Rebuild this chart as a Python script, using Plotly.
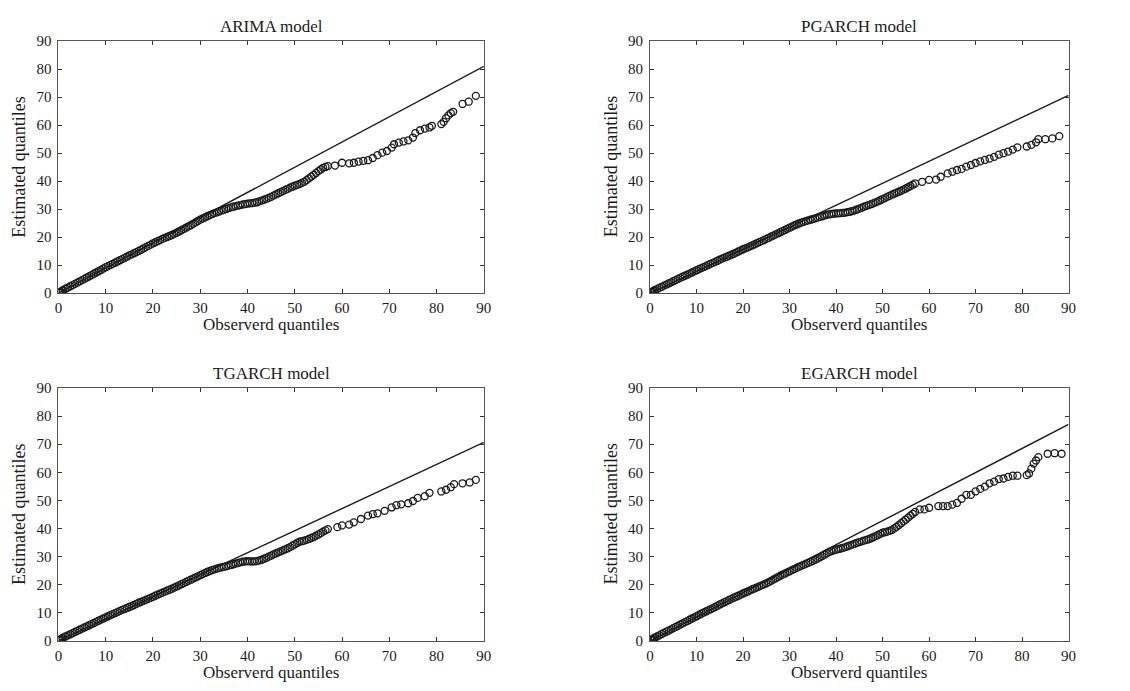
import sys
import plotly.graph_objects as go

# ---------------- data ----------------
titles = ["ARIMA model", "PGARCH model", "TGARCH model", "EGARCH model"]
x_label = "Observerd quantiles"
y_label = "Estimated quantiles"
tick_vals = [0, 10, 20, 30, 40, 50, 60, 70, 80, 90]

# slope of the reference line (through the origin) per model
ref_slopes = [0.90, 0.785, 0.785, 0.856]

# observed quantiles in the dense part of every panel
dense_x = [0.1, 0.3, 0.5, 0.8, 1, 1.5, 2, 2.5,
           3, 3.5, 4, 4.5, 5, 5.5, 6, 6.5, 7, 7.5,
           8, 8.5, 9, 9.5, 10, 10.5, 11, 11.5, 12, 12.5,
           13, 13.5, 14, 14.5, 15, 15.5, 16, 16.5, 17, 17.5,
           18, 18.5, 19, 19.5, 20, 20.5, 21, 21.5, 22, 22.5,
           23, 23.5, 24, 24.5, 25, 25.5, 26, 26.5, 27, 27.5,
           28, 28.5, 29, 29.5, 30, 30.5, 31, 31.5, 32, 32.5,
           33, 33.5, 34, 34.5, 35, 35.5, 36, 36.5, 37, 37.5,
           38, 38.5, 39, 39.5, 40, 40.5, 41, 41.5, 42, 42.5,
           43, 43.5, 44, 44.5, 45, 45.5, 46, 46.5, 47, 47.5,
           48, 48.5, 49, 49.5, 50, 50.5, 51, 51.5, 52, 52.5,
           53, 53.5, 54, 54.5, 55, 55.5, 56, 56.5, 57]

arima_dense_y = [0.2, 0.4, 0.6, 0.9, 1.1, 1.6, 2.0, 2.5,
                 2.9, 3.35, 3.8, 4.25, 4.7, 5.15, 5.6, 6.05, 6.5, 6.95,
                 7.4, 7.85, 8.3, 8.8, 9.3, 9.7, 10.1, 10.5, 10.9, 11.35,
                 11.8, 12.2, 12.6, 13.05, 13.5, 13.9, 14.3, 14.7, 15.1, 15.55,
                 16.0, 16.45, 16.9, 17.35, 17.8, 18.2, 18.6, 19.0, 19.4, 19.75,
                 20.1, 20.45, 20.8, 21.2, 21.6, 22.05, 22.5, 22.95, 23.4, 23.85,
                 24.3, 24.8, 25.3, 25.8, 26.3, 26.7, 27.1, 27.5, 27.9, 28.25,
                 28.6, 28.9, 29.2, 29.5, 29.8, 30.1, 30.4, 30.65, 30.9, 31.1,
                 31.3, 31.5, 31.7, 31.85, 32.0, 32.1, 32.2, 32.35, 32.5, 32.8,
                 33.1, 33.4, 33.7, 34.05, 34.4, 34.85, 35.3, 35.7, 36.1, 36.5,
                 36.9, 37.3, 37.7, 38.05, 38.4, 38.7, 39.0, 39.4, 39.8, 40.4,
                 41.0, 41.65, 42.3, 42.95, 43.6, 44.2, 44.8, 45.1, 45.4]
arima_tail_x = [58.5, 60, 61.5, 62.5, 63.5, 64.5, 65.5, 66.5, 67.5, 68.5, 69.5, 70.5, 71, 72, 73, 74,
                75, 75.5, 76.5, 77.5, 78.5, 79, 81, 81.5, 82, 82.5, 83, 83.5, 85.5, 86.8, 88.3]
arima_tail_y = [45.6, 46.6, 46.4, 46.6, 47.0, 47.3, 47.5, 48.3, 49.3, 50.2, 50.8, 52.0, 53.2, 53.8,
                54.2, 54.6, 55.6, 57.2, 58.2, 58.8, 59.2, 59.8, 60.4, 61.2, 62.5, 63.5, 64.3, 64.8,
                67.6, 68.4, 70.5]

pgarch_dense_y = [0.2, 0.4, 0.6, 0.9, 1.1, 1.5, 1.9, 2.3,
                  2.7, 3.1, 3.5, 3.9, 4.3, 4.7, 5.1, 5.5, 5.9, 6.25,
                  6.6, 7.0, 7.4, 7.8, 8.2, 8.6, 9.0, 9.35, 9.7, 10.1,
                  10.5, 10.85, 11.2, 11.6, 12.0, 12.35, 12.7, 13.05, 13.4, 13.75,
                  14.1, 14.5, 14.9, 15.3, 15.7, 16.05, 16.4, 16.75, 17.1, 17.5,
                  17.9, 18.25, 18.6, 19.0, 19.4, 19.8, 20.2, 20.6, 21.0, 21.4,
                  21.8, 22.2, 22.6, 23.0, 23.4, 23.8, 24.2, 24.55, 24.9, 25.2,
                  25.5, 25.75, 26.0, 26.25, 26.5, 26.75, 27.0, 27.25, 27.5, 27.75,
                  28.0, 28.15, 28.3, 28.4, 28.5, 28.55, 28.6, 28.7, 28.8, 28.95,
                  29.1, 29.35, 29.6, 29.9, 30.2, 30.55, 30.9, 31.2, 31.5, 31.8,
                  32.1, 32.45, 32.8, 33.2, 33.6, 34.0, 34.4, 34.8, 35.2, 35.55,
                  35.9, 36.25, 36.6, 37.0, 37.4, 37.85, 38.3, 38.75, 39.2]
pgarch_tail_x = [58.5, 60, 61.5, 62.5, 64, 65, 66, 67, 68, 69, 70, 71, 72, 73, 74, 75, 76, 77, 78, 79,
                 81, 82, 83, 83.5, 85, 86.5, 88]
pgarch_tail_y = [39.8, 40.5, 40.6, 41.6, 42.8, 43.4, 44.0, 44.4, 45.2, 45.8, 46.5, 47.1, 47.6, 48.1,
                 48.7, 49.5, 50.0, 50.6, 51.3, 52.1, 52.4, 53.0, 53.9, 55.0, 55.0, 55.3, 56.1]

tgarch_dense_y = [0.3, 0.5, 0.7, 1.0, 1.2, 1.6, 2.0, 2.4,
                  2.8, 3.2, 3.6, 4.0, 4.4, 4.8, 5.2, 5.6, 6.0, 6.4,
                  6.8, 7.2, 7.6, 8.0, 8.4, 8.8, 9.2, 9.55, 9.9, 10.3,
                  10.7, 11.05, 11.4, 11.75, 12.1, 12.45, 12.8, 13.2, 13.6, 13.95,
                  14.3, 14.65, 15.0, 15.35, 15.7, 16.1, 16.5, 16.85, 17.2, 17.55,
                  17.9, 18.25, 18.6, 19.0, 19.4, 19.8, 20.2, 20.6, 21.0, 21.4,
                  21.8, 22.2, 22.6, 23.0, 23.4, 23.8, 24.2, 24.55, 24.9, 25.2,
                  25.5, 25.75, 26.0, 26.2, 26.4, 26.6, 26.8, 27.05, 27.3, 27.55,
                  27.8, 28.0, 28.2, 28.3, 28.4, 28.35, 28.3, 28.35, 28.4, 28.65,
                  28.9, 29.25, 29.6, 30.0, 30.4, 30.8, 31.2, 31.55, 31.9, 32.25,
                  32.6, 33.0, 33.4, 33.9, 34.4, 34.85, 35.3, 35.5, 35.7, 36.0,
                  36.3, 36.65, 37.0, 37.45, 37.9, 38.4, 38.9, 39.35, 39.8]
tgarch_tail_x = [59, 60, 61.5, 62.5, 64, 65.5, 66.5, 67.5, 69, 70.5, 71.5, 72.5, 74, 75, 76, 77.5,
                 78.5, 81, 82, 83, 83.7, 85.5, 87, 88.3]
tgarch_tail_y = [40.5, 41.1, 41.4, 42.2, 43.4, 44.6, 45.1, 45.4, 46.3, 47.5, 48.3, 48.6, 49.0, 49.8,
                 50.9, 51.5, 52.7, 53.2, 53.8, 54.7, 55.8, 56.1, 56.4, 57.3]

egarch_dense_y = [0.3, 0.5, 0.7, 1.0, 1.2, 1.6, 2.0, 2.5,
                  2.9, 3.3, 3.7, 4.15, 4.6, 5.0, 5.4, 5.85, 6.3, 6.7,
                  7.1, 7.55, 8.0, 8.4, 8.8, 9.25, 9.7, 10.1, 10.5, 10.9,
                  11.3, 11.7, 12.1, 12.55, 13.0, 13.4, 13.8, 14.2, 14.6, 15.0,
                  15.4, 15.75, 16.1, 16.5, 16.9, 17.25, 17.6, 18.0, 18.4, 18.75,
                  19.1, 19.45, 19.8, 20.15, 20.5, 20.95, 21.4, 21.85, 22.3, 22.75,
                  23.2, 23.6, 24.0, 24.4, 24.8, 25.2, 25.6, 26.0, 26.4, 26.75,
                  27.1, 27.45, 27.8, 28.15, 28.5, 28.9, 29.3, 29.75, 30.2, 30.7,
                  31.2, 31.6, 32.0, 32.25, 32.5, 32.7, 32.9, 33.15, 33.4, 33.7,
                  34.0, 34.3, 34.6, 34.9, 35.2, 35.45, 35.7, 35.95, 36.2, 36.55,
                  36.9, 37.3, 37.7, 38.1, 38.5, 38.7, 38.9, 39.2, 39.5, 40.05,
                  40.6, 41.25, 41.9, 42.55, 43.2, 43.9, 44.6, 45.25, 45.9]
egarch_tail_x = [58, 59, 60, 62, 63, 64, 65, 66, 67, 68, 69, 70, 71, 72, 73, 74, 75, 76, 77, 78, 79,
                 81, 81.5, 82, 82.5, 83, 83.5, 85.5, 87, 88.5]
egarch_tail_y = [46.8, 46.8, 47.4, 48.0, 48.0, 48.0, 48.5, 49.1, 50.6, 52.0, 52.0, 53.2, 54.1, 54.9,
                 56.1, 56.7, 57.6, 57.8, 58.4, 58.8, 58.8, 59.0, 59.6, 61.3, 63.1, 64.2, 65.4,
                 66.6, 66.8, 66.6]

series_x = [dense_x + arima_tail_x, dense_x + pgarch_tail_x,
            dense_x + tgarch_tail_x, dense_x + egarch_tail_x]
series_y = [arima_dense_y + arima_tail_y, pgarch_dense_y + pgarch_tail_y,
            tgarch_dense_y + tgarch_tail_y, egarch_dense_y + egarch_tail_y]

# ---------------- layout geometry ----------------
W, H = 1130, 691
x_domains = [(55 / W, 485 / W), (653 / W, 1076 / W)]
y_domains = [(1 - 292 / H, 1 - 34 / H), (1 - 648 / H, 1 - 389 / H)]

FONT = "Liberation Serif, Times New Roman, serif"
INK = "#1a1a1a"

fig = go.Figure()
annotations = []
layout_axes = {}

for i in range(4):
    row, col = divmod(i, 2)
    n = i + 1
    xa = "x" if n == 1 else f"x{n}"
    ya = "y" if n == 1 else f"y{n}"
    xs, ys = series_x[i], series_y[i]
    if len(xs) != len(ys):
        print(f"length mismatch in panel {n}: {len(xs)} vs {len(ys)}", file=sys.stderr)

    fig.add_trace(go.Scatter(
        x=xs, y=ys, mode="markers", xaxis=xa, yaxis=ya, showlegend=False,
        marker=dict(symbol="circle-open", size=7, color=INK, line=dict(width=1.3, color=INK)),
    ))
    fig.add_trace(go.Scatter(
        x=[0, 90], y=[0, 90 * ref_slopes[i]], mode="lines", xaxis=xa, yaxis=ya, showlegend=False,
        line=dict(color=INK, width=1.4),
    ))

    axis_common = dict(
        range=[0, 90], tickvals=tick_vals, ticks="inside", ticklen=4, tickwidth=1,
        tickcolor="#333", showline=True, linecolor="#555", linewidth=1, mirror="ticks",
        showgrid=False, zeroline=False, tickfont=dict(family=FONT, size=15, color=INK),
    )
    layout_axes[f"xaxis{'' if n == 1 else n}"] = dict(
        axis_common, domain=list(x_domains[col]), anchor=ya, ticklabelstandoff=1)
    layout_axes[f"yaxis{'' if n == 1 else n}"] = dict(
        axis_common, domain=list(y_domains[row]), anchor=xa, ticklabelstandoff=3)

    x0, x1 = x_domains[col]
    y0, y1 = y_domains[row]
    xc = (x0 + x1) / 2
    annotations.append(dict(text=titles[i], x=xc, y=y1, xref="paper", yref="paper",
                            xanchor="center", yanchor="bottom", yshift=3, showarrow=False,
                            font=dict(family=FONT, size=17, color=INK)))
    annotations.append(dict(text=x_label, x=xc, y=y0, xref="paper", yref="paper",
                            xanchor="center", yanchor="top", yshift=-20, showarrow=False,
                            font=dict(family=FONT, size=17, color=INK)))
    annotations.append(dict(text=y_label, x=x0, y=(y0 + y1) / 2, xref="paper", yref="paper",
                            xanchor="right", yanchor="middle", xshift=-27, textangle=-90,
                            showarrow=False, font=dict(family=FONT, size=18, color=INK)))

fig.update_layout(
    width=W, height=H, margin=dict(l=0, r=0, t=0, b=0),
    paper_bgcolor="white", plot_bgcolor="white",
    annotations=annotations, **layout_axes,
)

fig.write_html("out.html")
